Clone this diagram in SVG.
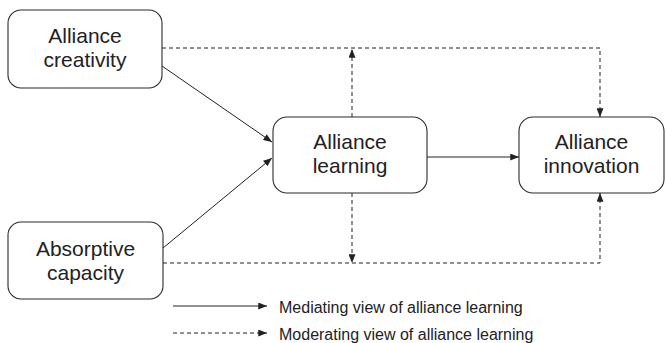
<svg xmlns="http://www.w3.org/2000/svg" width="666" height="343" viewBox="0 0 666 343">
  <defs>
    <marker id="head" viewBox="0 0 10 8" refX="10" refY="4" markerWidth="9" markerHeight="7" markerUnits="userSpaceOnUse" orient="auto">
      <path d="M0,0 L10,4 L0,8 Z" fill="#222"/>
    </marker>
  </defs>
  <style>
    .box { fill: #fff; stroke: #2a2a2a; stroke-width: 1.1; }
    .label { font-family: "Liberation Sans", Arial, sans-serif; font-size: 21px; fill: #222; text-anchor: middle; }
    .legend { font-family: "Liberation Sans", Arial, sans-serif; font-size: 16px; fill: #222; }
    .solid { fill: none; stroke: #222; stroke-width: 1; }
    .dash { fill: none; stroke: #222; stroke-width: 1; stroke-dasharray: 4 3; }
  </style>

  <rect width="666" height="343" fill="#fff"/>

  <g id="connectors">
    <!-- mediating paths -->
    <line class="solid" x1="162" y1="66" x2="272" y2="142" marker-end="url(#head)"/>
    <line class="solid" x1="163" y1="248" x2="272" y2="158" marker-end="url(#head)"/>
    <line class="solid" x1="427" y1="157" x2="519" y2="157" marker-end="url(#head)"/>
    <!-- moderating paths -->
    <polyline class="dash" points="162,48 600,48 600,117" marker-end="url(#head)"/>
    <line class="dash" x1="352" y1="117" x2="352" y2="49" marker-end="url(#head)"/>
    <polyline class="dash" points="163,263 600,263 600,193" marker-end="url(#head)"/>
    <line class="dash" x1="352" y1="193" x2="352" y2="263" marker-end="url(#head)"/>
  </g>

  <g id="alliance-creativity">
    <rect class="box" x="8" y="10" width="154" height="78" rx="13"/>
    <text class="label" x="85" y="43">Alliance</text>
    <text class="label" x="85" y="67">creativity</text>
  </g>

  <g id="absorptive-capacity">
    <rect class="box" x="8" y="222" width="155" height="77" rx="13"/>
    <text class="label" x="85.5" y="256">Absorptive</text>
    <text class="label" x="85.5" y="280">capacity</text>
  </g>

  <g id="alliance-learning">
    <rect class="box" x="273" y="117" width="154" height="76" rx="14"/>
    <text class="label" x="350" y="149">Alliance</text>
    <text class="label" x="350" y="173">learning</text>
  </g>

  <g id="alliance-innovation">
    <rect class="box" x="519" y="117" width="145" height="76" rx="14"/>
    <text class="label" x="591.5" y="149">Alliance</text>
    <text class="label" x="591.5" y="173">innovation</text>
  </g>

  <g id="legend">
    <line class="solid" x1="173" y1="306" x2="267" y2="306" marker-end="url(#head)"/>
    <text class="legend" x="279" y="313">Mediating view of alliance learning</text>
    <line class="dash" x1="173" y1="333" x2="267" y2="333" marker-end="url(#head)"/>
    <text class="legend" x="279" y="340">Moderating view of alliance learning</text>
  </g>
</svg>
